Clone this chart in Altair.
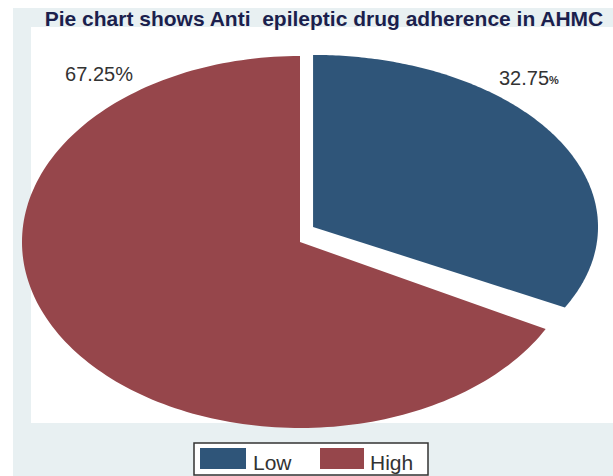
import altair as alt

# ---- data ----
categories = ["Low", "High"]
values = [32.75, 67.25]
colors = ["#2f5579", "#96464b"]
title_text = "Pie chart shows Anti\u00a0 epileptic drug adherence in AHMC"

N = 180  # number of arc segments per slice (drawing resolution)
pie_records = [
    {"category": c, "value": v, "order": i, "steps": list(range(-1, N + 1))}
    for i, (c, v) in enumerate(zip(categories, values))
]

# exploded slice geometry (offset x, offset y, radius scale x, radius scale y)
explode = {"Low": (0.047, 0.081, 1.025, 0.925)}


def expr(idx, default):
    s = str(default)
    for k, p in explode.items():
        s = f"datum.category == '{k}' ? {p[idx]} : ({s})"
    return s


W, H = 613, 476
x_dom = [-1.0791, 1.1259]
y_dom = [-1.2581, 1.3011]

FONT = "Liberation Sans"

pie = (
    alt.Chart(alt.Data(values=pie_records))
    .transform_window(cum="sum(value)", sort=[alt.SortField("order")], frame=[None, 0])
    .transform_joinaggregate(total="sum(value)")
    .transform_calculate(start="datum.cum - datum.value")
    .transform_flatten(["steps"], as_=["step"])
    .transform_calculate(
        ang=f"2*PI*(datum.start + datum.value*max(datum.step,0)/{N})/datum.total",
        cx=expr(0, 0), cy=expr(1, 0), sx=expr(2, 1), sy=expr(3, 1),
    )
    .transform_calculate(
        px="datum.step < 0 ? datum.cx : datum.cx + datum.sx*sin(datum.ang)",
        py="datum.step < 0 ? datum.cy : datum.cy + datum.sy*cos(datum.ang)",
    )
    .mark_line(filled=True, interpolate="linear-closed", strokeWidth=0)
    .encode(
        x=alt.X("px:Q", scale=alt.Scale(domain=x_dom, nice=False, zero=False), axis=None),
        y=alt.Y("py:Q", scale=alt.Scale(domain=y_dom, nice=False, zero=False), axis=None),
        color=alt.Color("category:N", scale=alt.Scale(domain=categories, range=colors), legend=None),
        detail="category:N",
        order=alt.Order("step:Q"),
    )
)

one = alt.Data(values=[{}])
outer_bg = alt.Chart(one).mark_rect(fill="#e8f0f2").encode(
    x=alt.value(13), x2=alt.value(W), y=alt.value(8), y2=alt.value(H)
)
inner_bg = alt.Chart(one).mark_rect(fill="#ffffff").encode(
    x=alt.value(31), x2=alt.value(W), y=alt.value(27), y2=alt.value(423)
)

title = alt.Chart(one).mark_text(
    text=title_text, font=FONT, fontSize=21, fontWeight="bold", color="#1b1f4d",
    align="center", baseline="alphabetic",
).encode(x=alt.value(324), y=alt.value(26))

vals = alt.Data(values=[{"category": c, "value": v} for c, v in zip(categories, values)])

lab_high = alt.Chart(vals).transform_filter("datum.category == 'High'").transform_calculate(
    label="format(datum.value, '.2f') + '%'"
).mark_text(font=FONT, fontSize=20, color="#333333", align="center", baseline="alphabetic").encode(
    text="label:N", x=alt.value(99), y=alt.value(81)
)
lab_low = alt.Chart(vals).transform_filter("datum.category == 'Low'").transform_calculate(
    label="format(datum.value, '.2f')"
).mark_text(font=FONT, fontSize=20, color="#333333", align="left", baseline="alphabetic").encode(
    text="label:N", x=alt.value(499), y=alt.value(85)
)
lab_low_pct = alt.Chart(one).mark_text(
    text="%", font=FONT, fontSize=11, fontWeight="bold", color="#333333", align="left", baseline="alphabetic"
).encode(x=alt.value(549), y=alt.value(84))

# ---- legend ----
leg_box = alt.Chart(one).mark_rect(fill="#ffffff", stroke="#333333", strokeWidth=1.5).encode(
    x=alt.value(194), x2=alt.value(428), y=alt.value(443), y2=alt.value(475)
)
leg_layers = []
for cat, sx, tx in [("Low", 200, 253), ("High", 320, 370)]:
    sw_w = 46 if cat == "Low" else 44
    leg_layers.append(
        alt.Chart(vals).transform_filter(f"datum.category == '{cat}'").mark_rect(strokeWidth=0).encode(
            x=alt.value(sx), x2=alt.value(sx + sw_w), y=alt.value(448), y2=alt.value(469),
            color=alt.Color("category:N", scale=alt.Scale(domain=categories, range=colors), legend=None),
        )
    )
    leg_layers.append(
        alt.Chart(vals).transform_filter(f"datum.category == '{cat}'").mark_text(
            font=FONT, fontSize=21, color="#333333", align="left", baseline="alphabetic"
        ).encode(text="category:N", x=alt.value(tx), y=alt.value(470))
    )

chart = (
    alt.layer(outer_bg, inner_bg, pie, lab_high, lab_low, lab_low_pct, title, leg_box, *leg_layers)
    .properties(width=W, height=H, autosize=alt.AutoSizeParams(type="none"), padding=0, background="#ffffff")
    .configure_view(stroke=None)
)

chart.save("out.html", embed_options={"renderer": "svg", "actions": False})
